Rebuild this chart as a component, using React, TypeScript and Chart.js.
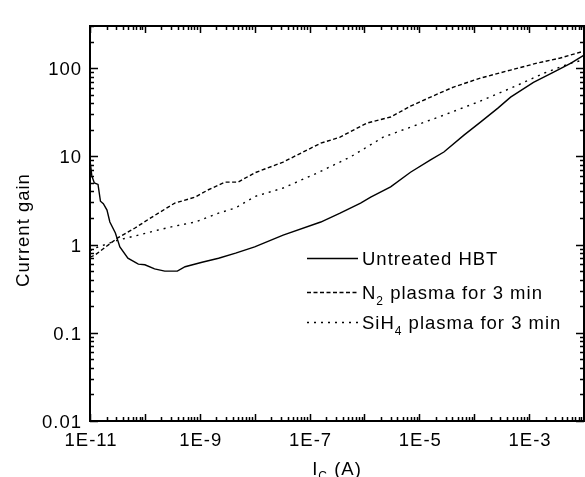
import React, { useEffect, useRef } from 'react';
import { Chart, registerables } from 'chart.js';

Chart.register(...registerables);

// ---- Data (collector current in A, current gain) ----
const untreatedI = [
  1.0e-11, 1.08e-11, 1.2e-11, 1.4e-11, 1.55e-11, 1.75e-11, 2.04e-11, 2.3e-11, 2.9e-11, 3.5e-11,
  4.9e-11, 7.6e-11, 1.0e-10, 1.5e-10, 2.3e-10, 3.9e-10, 5.4e-10, 1.1e-9, 2.2e-9, 4.5e-9,
  1.0e-8, 3.3e-8, 1.6e-7, 3.6e-7, 8.5e-7, 1.3e-6, 3.0e-6, 6.9e-6, 1.6e-5, 2.8e-5,
  6.5e-5, 1.3e-4, 2.7e-4, 4.6e-4, 1.2e-3, 2.8e-3, 5.8e-3, 1.0e-2,
];
const untreatedGain = [
  9.0, 6.0, 5.0, 4.8, 3.1, 2.9, 2.46, 1.8, 1.35, 0.94,
  0.7, 0.6, 0.59, 0.53, 0.5, 0.5, 0.56, 0.63, 0.7, 0.8,
  0.94, 1.28, 1.8, 2.27, 2.95, 3.45, 4.5, 6.6, 9.1, 11.2,
  17.4, 24.4, 35.2, 46.9, 69, 90, 114, 140,
];

const n2I = [
  1.0e-11, 1.23e-11, 3.2e-11, 6.6e-11, 1.35e-10, 3.5e-10, 8.3e-10, 1.4e-9, 2.9e-9, 5.0e-9,
  1.0e-8, 3.3e-8, 1.6e-7, 3.6e-7, 1.1e-6, 3.0e-6, 6.9e-6, 1.6e-5, 4.2e-5, 1.3e-4,
  4.6e-4, 1.4e-3, 3.7e-3, 1.0e-2,
];
const n2Gain = [
  0.72, 0.76, 1.19, 1.54, 2.05, 2.95, 3.45, 4.15, 5.1, 5.1,
  6.5, 8.6, 14.1, 16.5, 23.8, 27.9, 37, 46.9, 61, 77,
  95, 114, 130, 156,
];

const sih4I = [
  1.0e-11, 1.23e-11, 3.2e-11, 7.6e-11, 1.74e-10, 3.5e-10, 8.3e-10, 2.2e-9, 4.5e-9, 1.0e-8,
  3.3e-8, 1.4e-7, 5.5e-7, 2.2e-6, 6.9e-6, 2.8e-5, 1.15e-4, 4.6e-4, 1.9e-3, 5.8e-3,
  1.0e-2,
];
const sih4Gain = [
  0.85, 0.91, 1.12, 1.28, 1.46, 1.62, 1.8, 2.27, 2.6, 3.5,
  4.37, 6.5, 9.8, 16.5, 21.4, 29.3, 41, 59, 88, 114,
  124,
];

const seriesNames = ['Untreated HBT', 'N', 'SiH'];
const seriesSubs = ['', '2', '4'];
const seriesTails = ['', ' plasma for 3 min', ' plasma for 3 min'];

const xTickValues = [1e-11, 1e-9, 1e-7, 1e-5, 1e-3];
const xTickLabels = ['1E-11', '1E-9', '1E-7', '1E-5', '1E-3'];
const yTickValues = [0.01, 0.1, 1, 10, 100];
const yTickLabels = ['0.01', '0.1', '1', '10', '100'];

const X_MIN = 1e-11;
const X_MAX = 1e-2;
const Y_MIN = 0.01;
const Y_MAX = 300;

const FONT = '"Liberation Sans", Arial, sans-serif';
const DASHES: number[][] = [[], [4, 2.5], [2, 5]];

function toPoints(xs: number[], ys: number[]) {
  return xs.map((v, i) => ({ x: v, y: ys[i] }));
}

const decorPlugin = {
  id: 'decor',
  afterDraw(chart: any) {
    const { ctx, chartArea: a } = chart;
    const xs = chart.scales.x;
    const ys = chart.scales.y;
    ctx.save();
    ctx.strokeStyle = '#000';
    ctx.fillStyle = '#000';
    // frame
    ctx.lineWidth = 2;
    ctx.setLineDash([]);
    ctx.strokeRect(a.left, a.top, a.right - a.left, a.bottom - a.top);

    // ticks (inward, mirrored)
    ctx.lineWidth = 1.5;
    ctx.beginPath();
    for (let e = -11; e <= -2; e++) {
      for (let m = 1; m <= 9; m++) {
        const v = m * Math.pow(10, e);
        if (v > X_MAX * 1.0001) break;
        const px = Math.round(xs.getPixelForValue(v)) + 0.5;
        const len = m === 1 ? 7 : 4;
        ctx.moveTo(px, a.bottom);
        ctx.lineTo(px, a.bottom - len);
        ctx.moveTo(px, a.top);
        ctx.lineTo(px, a.top + len);
      }
    }
    for (let e = -2; e <= 2; e++) {
      for (let m = 1; m <= 9; m++) {
        const v = m * Math.pow(10, e);
        if (v > Y_MAX * 1.0001) break;
        const py = Math.round(ys.getPixelForValue(v)) + 0.5;
        const len = m === 1 ? 8 : 4;
        ctx.moveTo(a.left, py);
        ctx.lineTo(a.left + len, py);
        ctx.moveTo(a.right, py);
        ctx.lineTo(a.right - len, py);
      }
    }
    ctx.stroke();

    // tick labels
    (ctx as any).letterSpacing = '1px';
    ctx.font = `18.5px ${FONT}`;
    ctx.textBaseline = 'alphabetic';
    ctx.textAlign = 'center';
    xTickValues.forEach((v, i) => {
      ctx.fillText(xTickLabels[i], xs.getPixelForValue(v) + 1, a.bottom + 25);
    });
    ctx.textAlign = 'right';
    yTickValues.forEach((v, i) => {
      ctx.fillText(yTickLabels[i], a.left - 8, ys.getPixelForValue(v) + 7);
    });

    // axis titles
    ctx.textAlign = 'left';
    const xt1 = 'I';
    const xt2 = 'C';
    const xt3 = ' (A)';
    ctx.font = `18.5px ${FONT}`;
    const w1 = ctx.measureText(xt1).width;
    const w3 = ctx.measureText(xt3).width;
    ctx.font = `12px ${FONT}`;
    const w2 = ctx.measureText(xt2).width;
    const xc = (a.left + a.right) / 2;
    let tx = xc - (w1 + w2 + w3) / 2;
    const tb = a.bottom + 54;
    ctx.font = `18.5px ${FONT}`;
    ctx.fillText(xt1, tx, tb);
    tx += w1;
    ctx.font = `12px ${FONT}`;
    ctx.fillText(xt2, tx, tb + 5);
    tx += w2;
    ctx.font = `18.5px ${FONT}`;
    ctx.fillText(xt3, tx, tb);

    ctx.save();
    ctx.translate(29, 230);
    ctx.rotate(-Math.PI / 2);
    ctx.textAlign = 'center';
    ctx.fillText('Current gain', 0, 0);
    ctx.restore();

    // legend
    const rows = [258, 292, 322];
    const lx0 = 307;
    const lx1 = 358;
    rows.forEach((ry, i) => {
      ctx.lineWidth = 1.4;
      ctx.setLineDash(DASHES[i]);
      ctx.beginPath();
      ctx.moveTo(lx0, ry + 0.5);
      ctx.lineTo(lx1, ry + 0.5);
      ctx.stroke();
      ctx.setLineDash([]);
      let x = 362;
      const base = ry + 7;
      ctx.textAlign = 'left';
      ctx.font = `18.5px ${FONT}`;
      ctx.fillText(seriesNames[i], x, base);
      x += ctx.measureText(seriesNames[i]).width;
      if (seriesSubs[i]) {
        ctx.font = `12px ${FONT}`;
        ctx.fillText(seriesSubs[i], x, base + 6);
        x += ctx.measureText(seriesSubs[i]).width;
        ctx.font = `18.5px ${FONT}`;
        ctx.fillText(seriesTails[i], x, base);
      }
    });
    ctx.restore();
  },
};

export default function App() {
  const ref = useRef<HTMLCanvasElement | null>(null);
  useEffect(() => {
    if (!ref.current) return;
    const mk = (label: string, xs: number[], ys: number[], dash: number[]) => ({
      label,
      data: toPoints(xs, ys),
      borderColor: '#000',
      backgroundColor: '#000',
      borderWidth: 1.4,
      borderDash: dash,
      pointRadius: 0,
      tension: 0,
      fill: false,
    });
    const chart = new Chart(ref.current, {
      type: 'line',
      data: {
        datasets: [
          mk('Untreated HBT', untreatedI, untreatedGain, DASHES[0]),
          mk('N2 plasma for 3 min', n2I, n2Gain, DASHES[1]),
          mk('SiH4 plasma for 3 min', sih4I, sih4Gain, DASHES[2]),
        ],
      },
      options: {
        responsive: false,
        animation: false,
        devicePixelRatio: 1,
        layout: { padding: { left: 90, right: 1, top: 26, bottom: 56 } },
        plugins: { legend: { display: false }, tooltip: { enabled: false } },
        scales: {
          x: { type: 'logarithmic', min: X_MIN, max: X_MAX, display: false },
          y: { type: 'logarithmic', min: Y_MIN, max: Y_MAX, display: false },
        },
      } as any,
      plugins: [decorPlugin],
    });
    return () => chart.destroy();
  }, []);
  return (
    <div style={{ position: 'absolute', left: 0, top: 0, width: 585, height: 477, background: '#fff' }}>
      <canvas ref={ref} width={585} height={477} style={{ display: 'block' }} />
    </div>
  );
}
